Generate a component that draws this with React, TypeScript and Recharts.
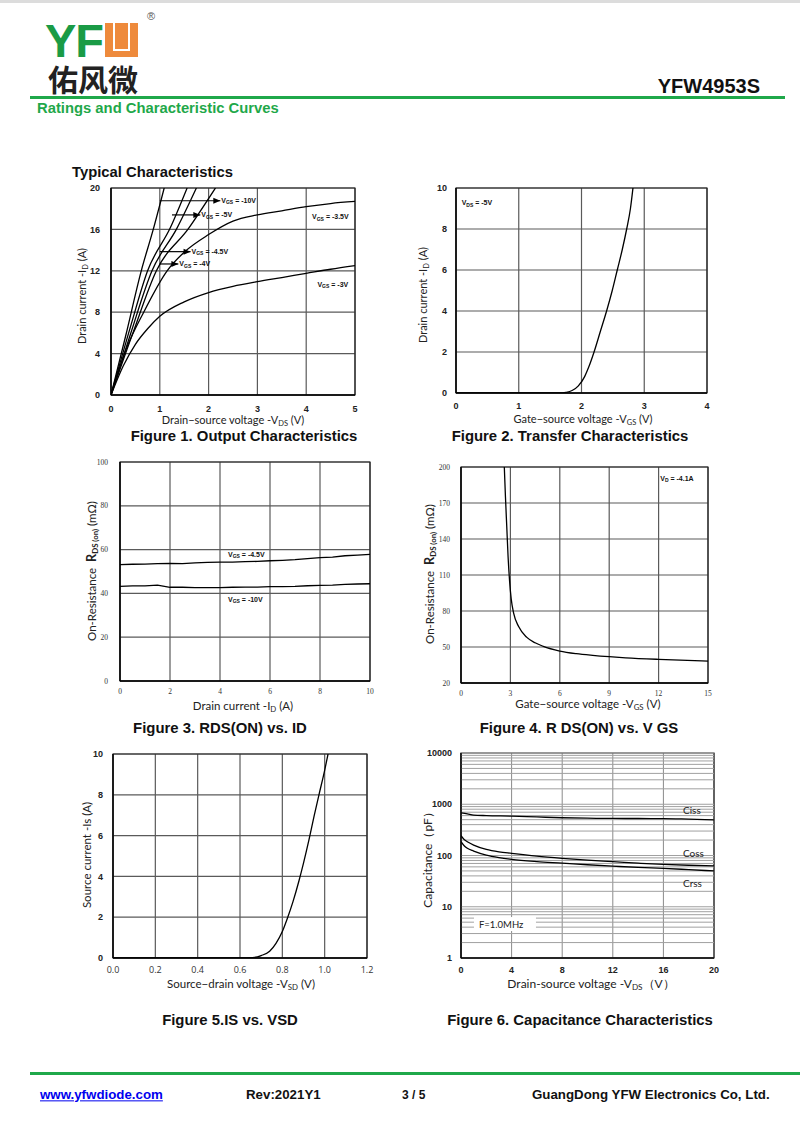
import React from 'react';
import { LineChart, Line, XAxis, YAxis, CartesianGrid, ReferenceLine, ReferenceDot, ReferenceArea } from 'recharts';

type P = [number, number];
const toData = (pts: P[]) => pts.map(([x, y]) => ({ x, y }));

// ---------- Figure 1: Output characteristics ----------
const fig1XTicks = [0, 1, 2, 3, 4, 5];
const fig1YTicks = [0, 4, 8, 12, 16, 20];
const fig1Vgs10: P[] = [[0, 0], [0.3, 5.7], [0.62, 12], [0.86, 15.9], [1.09, 20]];
const fig1Vgs5: P[] = [[0, 0], [0.4, 6.6], [0.75, 12], [1.22, 16.2], [1.56, 20]];
const fig1Vgs45: P[] = [[0, 0], [0.4, 5.9], [0.84, 12], [1.35, 16.1], [1.75, 20]];
const fig1Vgs4: P[] = [[0, 0], [0.45, 6.0], [0.93, 12], [1.59, 16.1], [2.14, 20]];
const fig1Vgs35: P[] = [[0, 0], [0.3, 4.3], [0.67, 8], [1.15, 12], [1.5, 13.8], [2, 15.5], [2.5, 16.8], [3, 17.4], [3.5, 17.8], [4, 18.2], [4.5, 18.5], [5, 18.7]];
const fig1Vgs3: P[] = [[0, 0], [0.25, 2.8], [0.5, 4.9], [0.75, 6.4], [1, 7.6], [1.5, 9], [2, 9.9], [2.5, 10.5], [3, 10.95], [3.5, 11.35], [4, 11.75], [4.5, 12.15], [5, 12.5]];
const fig1Arrows = [
  { val: '-10V', x1: 1.0, x2: 2.24, y: 18.77 },
  { val: '-5V', x1: 1.25, x2: 1.83, y: 17.4 },
  { val: '-4.5V', x1: 1.0, x2: 1.63, y: 13.85 },
  { val: '-4V', x1: 1.0, x2: 1.38, y: 12.66 },
];
const fig1Labels = [
  { val: '-3.5V', x: 4.12, y: 17.2 },
  { val: '-3V', x: 4.23, y: 10.7 },
];

// ---------- Figure 2: Transfer characteristics ----------
const fig2XTicks = [0, 1, 2, 3, 4];
const fig2YTicks = [0, 2, 4, 6, 8, 10];
const fig2Curve: P[] = [[0, 0], [1.65, 0], [1.75, 0.03], [1.85, 0.12], [1.95, 0.35], [2.05, 0.8], [2.12, 1.3], [2.2, 2], [2.3, 3], [2.4, 4], [2.49, 5], [2.57, 6], [2.65, 7], [2.72, 8], [2.78, 9], [2.82, 10]];

// ---------- Figure 3: RDS(on) vs ID ----------
const fig3XTicks = [0, 2, 4, 6, 8, 10];
const fig3YTicks = [0, 20, 40, 60, 80, 100];
const fig3Id = [0, 0.5, 1, 1.5, 2, 2.5, 3, 3.5, 4, 4.5, 5, 5.5, 6, 6.5, 7, 7.5, 8, 8.5, 9, 9.5, 10];
const fig3Vgs45 = [53.1, 53.3, 53.4, 53.6, 53.7, 53.6, 53.9, 54.2, 54.3, 54.3, 54.5, 54.6, 54.9, 55.1, 55.4, 55.9, 56.3, 56.6, 57.2, 57.5, 57.8];
const fig3Vgs10 = [43.2, 43.4, 43.4, 43.8, 42.8, 42.8, 42.6, 42.6, 42.6, 42.8, 42.9, 42.9, 43.1, 43.1, 43.2, 43.5, 43.7, 43.8, 44.1, 44.3, 44.4];

// ---------- Figure 4: RDS(on) vs VGS ----------
const fig4XTicks = [0, 3, 6, 9, 12, 15];
const fig4YTicks = [20, 50, 80, 110, 140, 170, 200];
const fig4Curve: P[] = [[2.63, 200], [2.7, 175], [2.78, 150], [2.86, 125], [2.95, 105], [3.05, 90], [3.2, 78], [3.5, 67], [4, 58], [4.5, 53.5], [5, 50.5], [6, 46.6], [7, 44.4], [8, 43], [9, 41.9], [10, 41], [12, 39.7], [15, 38.3]];

// ---------- Figure 5: IS vs VSD ----------
const fig5XTicks = [0, 0.2, 0.4, 0.6, 0.8, 1.0, 1.2];
const fig5YTicks = [0, 2, 4, 6, 8, 10];
const fig5Curve: P[] = [[0, 0], [0.6, 0], [0.66, 0.02], [0.7, 0.12], [0.74, 0.33], [0.77, 0.72], [0.8, 1.3], [0.824, 1.95], [0.85, 2.75], [0.879, 3.8], [0.9, 4.65], [0.926, 5.8], [0.95, 6.95], [0.973, 8], [1.0, 9.2], [1.016, 10]];

// ---------- Figure 6: Capacitance ----------
const fig6XTicks = [0, 4, 8, 12, 16, 20];
const fig6YTicks = [1, 10, 100, 1000, 10000];
const fig6Ciss: P[] = [[0, 680], [0.5, 650], [1, 615], [2, 600], [4, 587], [6, 565], [8, 545], [10, 535], [12, 528], [14, 527], [16, 525], [18, 512], [20, 497]];
const fig6Coss: P[] = [[0, 243], [0.25, 205], [0.5, 186], [1, 160], [2, 132], [3, 118], [4, 110], [6, 97], [8, 88], [10, 81], [12, 76], [14, 71], [16, 67], [18, 64.5], [20, 62.5]];
const fig6Crss: P[] = [[0, 186], [0.25, 155], [0.5, 138], [1, 122], [2, 102], [3, 91], [4, 84], [6, 76], [8, 71], [10, 66], [12, 62], [14, 58.5], [16, 56], [18, 53], [20, 50]];
const fig6Decades = [1, 10, 100, 1000];
const fig6Mult = [1, 2, 3, 4, 5, 6, 7, 8, 9];
const fig6HLines = fig6Decades.flatMap((d) => fig6Mult.map((m) => d * m)).concat([10000]);
const fig6Labels = [
  { text: 'Ciss', x: 17.55, y: 767 },
  { text: 'Coss', x: 17.55, y: 110 },
  { text: 'Crss', x: 17.55, y: 28.7 },
];

const GREEN = '#1fa84a';
const SANS = 'Liberation Sans, Arial, sans-serif';
const CAL = 'Lato, sans-serif';
const GRID = '#5a5a5a';

const PAD_T = 12;
const PAD_R = 12;
const PAD_L = 44;
const PAD_B = 26;

function Txt(props: any) {
  const { x, y, size = 10, weight = 400, family = CAL, color = '#222', rotate = false, anchor = 'center', children, style } = props;
  let tf = anchor === 'center' ? 'translate(-50%,-50%)' : anchor === 'left' ? 'translate(0,-50%)' : 'translate(-100%,-50%)';
  if (rotate) tf += ' rotate(-90deg)';
  return (
    <div
      style={{
        position: 'absolute',
        left: x,
        top: y,
        transform: tf,
        fontSize: size,
        fontWeight: weight,
        fontFamily: family,
        color,
        whiteSpace: 'nowrap',
        lineHeight: 1,
        ...style,
      }}
    >
      {children}
    </div>
  );
}

const Sub = ({ children }: any) => (
  <span style={{ fontSize: '0.68em', position: 'relative', top: '0.25em' }}>{children}</span>
);

function Panel(props: any) {
  const { x, y, w, h, children } = props;
  return (
    <div style={{ position: 'absolute', left: x - PAD_L, top: y - PAD_T }}>
      <LineChart width={w + PAD_L + PAD_R} height={h + PAD_T + PAD_B} margin={{ top: PAD_T, right: PAD_R, left: 0, bottom: 0 }}>
        {children}
      </LineChart>
    </div>
  );
}

const xAxis = (domain: number[], ticks: number[], margin: number, tick: any, fmt?: (v: number) => string) => (
  <XAxis
    type="number"
    dataKey="x"
    domain={domain}
    ticks={ticks}
    interval={0}
    allowDataOverflow
    height={PAD_B}
    tickLine={false}
    tickSize={0}
    tickMargin={margin}
    axisLine={{ stroke: '#000', strokeWidth: 1.3 }}
    tick={tick}
    tickFormatter={fmt}
  />
);

const yAxis = (domain: number[], ticks: number[], margin: number, tick: any, scale: any = 'auto') => (
  <YAxis
    type="number"
    dataKey="y"
    domain={domain}
    ticks={ticks}
    interval={0}
    scale={scale}
    allowDataOverflow
    width={PAD_L}
    tickLine={false}
    tickSize={0}
    tickMargin={margin}
    axisLine={{ stroke: '#000', strokeWidth: 1.3 }}
    tick={tick}
  />
);

const boldTick = { fontSize: 9, fontWeight: 700, fill: '#222', fontFamily: SANS };
const serifTick = { fontSize: 7.5, fontWeight: 400, fill: '#333', fontFamily: 'Liberation Serif, serif' };
const lightTick = { fontSize: 9, fontWeight: 400, fill: '#333', fontFamily: 'Open Sans, sans-serif' };

const vLabel = (sub: string, val: string, arrow: boolean) => (p: any) => {
  const { cx, cy } = p;
  return (
    <g>
      {arrow && <polygon points={`${cx},${cy} ${cx - 7},${cy - 3} ${cx - 7},${cy + 3}`} fill="#000" />}
      <text x={cx + (arrow ? 1 : 0)} y={cy + 2.5} fontSize={7} fontWeight={700} fontFamily={SANS} fill="#111">
        V<tspan fontSize={5} dy={1.2}>{sub}</tspan>
        <tspan dy={-1.2}>{` = ${val}`}</tspan>
      </text>
    </g>
  );
};

const textShape = (txt: string, size: number, family: string, weight = 400) => (p: any) => (
  <text x={p.cx} y={p.cy} fontSize={size} fontFamily={family} fontWeight={weight} fill="#222" dominantBaseline="central">
    {txt}
  </text>
);

const boxedText = (txt: string) => (p: any) => (
  <g>
    <rect x={p.cx - 5} y={p.cy - 7} width={62} height={14} fill="#fff" />
    <text x={p.cx} y={p.cy} fontSize={9.5} fontFamily={CAL} fill="#222" dominantBaseline="central">
      {txt}
    </text>
  </g>
);

const curve = (pts: P[], key: string, type: any = 'monotone') => (
  <Line
    key={key}
    data={toData(pts)}
    dataKey="y"
    type={type}
    stroke="#000"
    strokeWidth={1.3}
    dot={false}
    isAnimationActive={false}
  />
);

const TITLE = 14.9;

export default function App() {
  return (
    <div style={{ position: 'absolute', left: 0, top: 0, width: 800, height: 1134, background: '#fff', overflow: 'hidden' }}>
      {/* top thin band */}
      <div style={{ position: 'absolute', left: 0, top: 0, width: 800, height: 3, background: '#dcdcdc' }} />

      {/* Logo */}
      <div style={{ position: 'absolute', left: 45, top: 23, fontSize: 47, fontWeight: 700, fontFamily: SANS, color: '#1a9b46', lineHeight: '36px', height: 36, letterSpacing: -1 }}>YF</div>
      <div style={{ position: 'absolute', left: 105, top: 23, width: 33, height: 34, background: '#ee8a3c' }}>
        <div style={{ position: 'absolute', left: 8, right: 8, top: 0, bottom: 6, border: '2px solid #fff', borderTop: 'none' }} />
      </div>
      <div style={{ position: 'absolute', left: 147, top: 11, fontSize: 11, color: '#555', fontFamily: SANS, lineHeight: 1 }}>®</div>
      <div style={{ position: 'absolute', left: 48, top: 63, fontSize: 30, fontWeight: 700, fontFamily: 'Noto Sans CJK SC, sans-serif', color: '#222', lineHeight: 1 }}>佑风微</div>

      <Txt x={760} y={86} size={20} weight={700} family={SANS} color="#111" anchor="right">YFW4953S</Txt>
      <div style={{ position: 'absolute', left: 30, top: 96, width: 755, height: 3, background: GREEN }} />
      <Txt x={37} y={108} size={14.8} weight={700} family={SANS} color={GREEN} anchor="left">Ratings and Characteristic Curves</Txt>

      <Txt x={72} y={172} size={14.8} weight={700} family={SANS} color="#111" anchor="left">Typical Characteristics</Txt>

      {/* Figure 1 */}
      <Panel x={111} y={188} w={244} h={207}>
        <CartesianGrid stroke={GRID} strokeWidth={1.2} />
        {xAxis([0, 5], fig1XTicks, 11, boldTick)}
        {yAxis([0, 20], fig1YTicks, 11, boldTick)}
        {curve(fig1Vgs10, 'a')}
        {curve(fig1Vgs5, 'b')}
        {curve(fig1Vgs45, 'c')}
        {curve(fig1Vgs4, 'd')}
        {curve(fig1Vgs35, 'e')}
        {curve(fig1Vgs3, 'f')}
        {fig1Arrows.map((a) => (
          <ReferenceLine key={'l' + a.val} segment={[{ x: a.x1, y: a.y }, { x: a.x2, y: a.y }]} stroke="#000" strokeWidth={1.2} />
        ))}
        {fig1Arrows.map((a) => (
          <ReferenceDot key={'d' + a.val} x={a.x2} y={a.y} r={0} shape={vLabel('GS', a.val, true)} ifOverflow="visible" />
        ))}
        {fig1Labels.map((a) => (
          <ReferenceDot key={'t' + a.val} x={a.x} y={a.y} r={0} shape={vLabel('GS', a.val, false)} ifOverflow="visible" />
        ))}
        <ReferenceArea x1={0} x2={5} y1={0} y2={20} fill="none" stroke="#222" strokeWidth={1.2} />
      </Panel>
      <Txt x={233} y={420} size={11}>Drain−source voltage -V<Sub>DS</Sub> (V)</Txt>
      <Txt x={82} y={296} size={11} rotate>Drain current -I<Sub>D</Sub> (A)</Txt>
      <Txt x={244} y={436} size={TITLE} weight={700} family={SANS} color="#111">Figure 1. Output Characteristics</Txt>

      {/* Figure 2 */}
      <Panel x={456} y={188} w={251} h={205}>
        <CartesianGrid stroke={GRID} strokeWidth={1.2} />
        {xAxis([0, 4], fig2XTicks, 10, boldTick)}
        {yAxis([0, 10], fig2YTicks, 9, boldTick)}
        {curve(fig2Curve, 'a')}
        <ReferenceDot x={0.09} y={9.27} r={0} shape={vLabel('DS', '-5V', false)} ifOverflow="visible" />
        <ReferenceArea x1={0} x2={4} y1={0} y2={10} fill="none" stroke="#222" strokeWidth={1.2} />
      </Panel>
      <Txt x={583} y={419} size={11}>Gate−source voltage -V<Sub>GS</Sub> (V)</Txt>
      <Txt x={423} y={295} size={11} rotate>Drain current -I<Sub>D</Sub> (A)</Txt>
      <Txt x={570} y={436} size={TITLE} weight={700} family={SANS} color="#111">Figure 2. Transfer Characteristics</Txt>

      {/* Figure 3 */}
      <Panel x={120} y={462} w={250} h={219}>
        <CartesianGrid stroke={GRID} strokeWidth={1.2} />
        {xAxis([0, 10], fig3XTicks, 8, serifTick)}
        {yAxis([0, 100], fig3YTicks, 12, serifTick)}
        <Line data={fig3Id.map((x, i) => ({ x, y: fig3Vgs45[i] }))} dataKey="y" type="linear" stroke="#000" strokeWidth={1.3} dot={false} isAnimationActive={false} />
        <Line data={fig3Id.map((x, i) => ({ x, y: fig3Vgs10[i] }))} dataKey="y" type="linear" stroke="#000" strokeWidth={1.3} dot={false} isAnimationActive={false} />
        <ReferenceDot x={4.32} y={57.7} r={0} shape={vLabel('GS', '-4.5V', false)} ifOverflow="visible" />
        <ReferenceDot x={4.32} y={37.1} r={0} shape={vLabel('GS', '-10V', false)} ifOverflow="visible" />
        <ReferenceArea x1={0} x2={10} y1={0} y2={100} fill="none" stroke="#222" strokeWidth={1.2} />
      </Panel>
      <Txt x={243} y={706} size={11.5}>Drain current -I<Sub>D</Sub> (A)</Txt>
      <Txt x={92} y={571} size={11.5} rotate>On-Resistance&nbsp; <b style={{ fontSize: '1.1em' }}>R</b><Sub><b>DS (on)</b></Sub> (mΩ)</Txt>
      <Txt x={220} y={728} size={TITLE} weight={700} family={SANS} color="#111">Figure 3. RDS(ON) vs. ID</Txt>

      {/* Figure 4 */}
      <Panel x={461} y={467} w={247} h={216}>
        <CartesianGrid stroke={GRID} strokeWidth={1.2} />
        {xAxis([0, 15], fig4XTicks, 8, serifTick)}
        {yAxis([20, 200], fig4YTicks, 11, serifTick)}
        {curve(fig4Curve, 'a')}
        <ReferenceDot x={12.1} y={190.6} r={0} shape={vLabel('D', '-4.1A', false)} ifOverflow="visible" />
        <ReferenceArea x1={0} x2={15} y1={20} y2={200} fill="none" stroke="#222" strokeWidth={1.2} />
      </Panel>
      <Txt x={588} y={704} size={11.5}>Gate−source voltage -V<Sub>GS</Sub> (V)</Txt>
      <Txt x={430} y={574} size={11.5} rotate>On-Resistance&nbsp; <b style={{ fontSize: '1.1em' }}>R</b><Sub><b>DS (on)</b></Sub> (mΩ)</Txt>
      <Txt x={579} y={728} size={TITLE} weight={700} family={SANS} color="#111">Figure 4. R DS(ON) vs. V GS</Txt>

      {/* Figure 5 */}
      <Panel x={113} y={754} w={254} h={204}>
        <CartesianGrid stroke={GRID} strokeWidth={1.2} />
        {xAxis([0, 1.2], fig5XTicks, 9, lightTick, (v: number) => v.toFixed(1))}
        {yAxis([0, 10], fig5YTicks, 10, boldTick)}
        {curve(fig5Curve, 'a')}
        <ReferenceArea x1={0} x2={1.2} y1={0} y2={10} fill="none" stroke="#222" strokeWidth={1.2} />
      </Panel>
      <Txt x={241} y={984} size={11.5}>Source−drain voltage -V<Sub>SD</Sub> (V)</Txt>
      <Txt x={87} y={855} size={11.5} rotate>Source current -Is (A)</Txt>
      <Txt x={230} y={1020} size={TITLE} weight={700} family={SANS} color="#111">Figure 5.IS vs. VSD</Txt>

      {/* Figure 6 */}
      <Panel x={461} y={753} w={253} h={205}>
        <CartesianGrid horizontal={false} stroke="#8a8a8a" strokeWidth={1} />
        {xAxis([0, 20], fig6XTicks, 9, boldTick)}
        {yAxis([1, 10000], fig6YTicks, 9, boldTick, 'log')}
        {fig6HLines.map((v) => (
          <ReferenceLine key={'h' + v} y={v} stroke="#a0a0a0" strokeWidth={1} />
        ))}
        {curve(fig6Ciss, 'a')}
        {curve(fig6Coss, 'b')}
        {curve(fig6Crss, 'c')}
        {fig6Labels.map((l) => (
          <ReferenceDot key={l.text} x={l.x} y={l.y} r={0} shape={textShape(l.text, 10, CAL)} ifOverflow="visible" />
        ))}
        <ReferenceDot x={1.42} y={4.6} r={0} shape={boxedText('F=1.0MHz')} ifOverflow="visible" />
        <ReferenceArea x1={0} x2={20} y1={1} y2={10000} fill="none" stroke="#222" strokeWidth={1.2} />
      </Panel>
      <Txt x={591} y={984} size={12}>Drain-source voltage -V<Sub>DS</Sub>（V）</Txt>
      <Txt x={428} y={857} size={12} rotate>Capacitance（pF）</Txt>
      <Txt x={580} y={1020} size={TITLE} weight={700} family={SANS} color="#111">Figure 6. Capacitance Characteristics</Txt>

      {/* Footer */}
      <div style={{ position: 'absolute', left: 30, top: 1072, width: 770, height: 3, background: GREEN }} />
      <Txt x={40} y={1095} size={13.3} weight={700} family={SANS} color="#0000ee" anchor="left" style={{ textDecoration: 'underline' }}>www.yfwdiode.com</Txt>
      <Txt x={246} y={1095} size={13.3} weight={700} family={SANS} color="#111" anchor="left">Rev:2021Y1</Txt>
      <Txt x={402} y={1095} size={12} weight={700} family={SANS} color="#111" anchor="left">3 / 5</Txt>
      <Txt x={532} y={1095} size={13.3} weight={700} family={SANS} color="#111" anchor="left">GuangDong YFW Electronics Co, Ltd.</Txt>
    </div>
  );
}
